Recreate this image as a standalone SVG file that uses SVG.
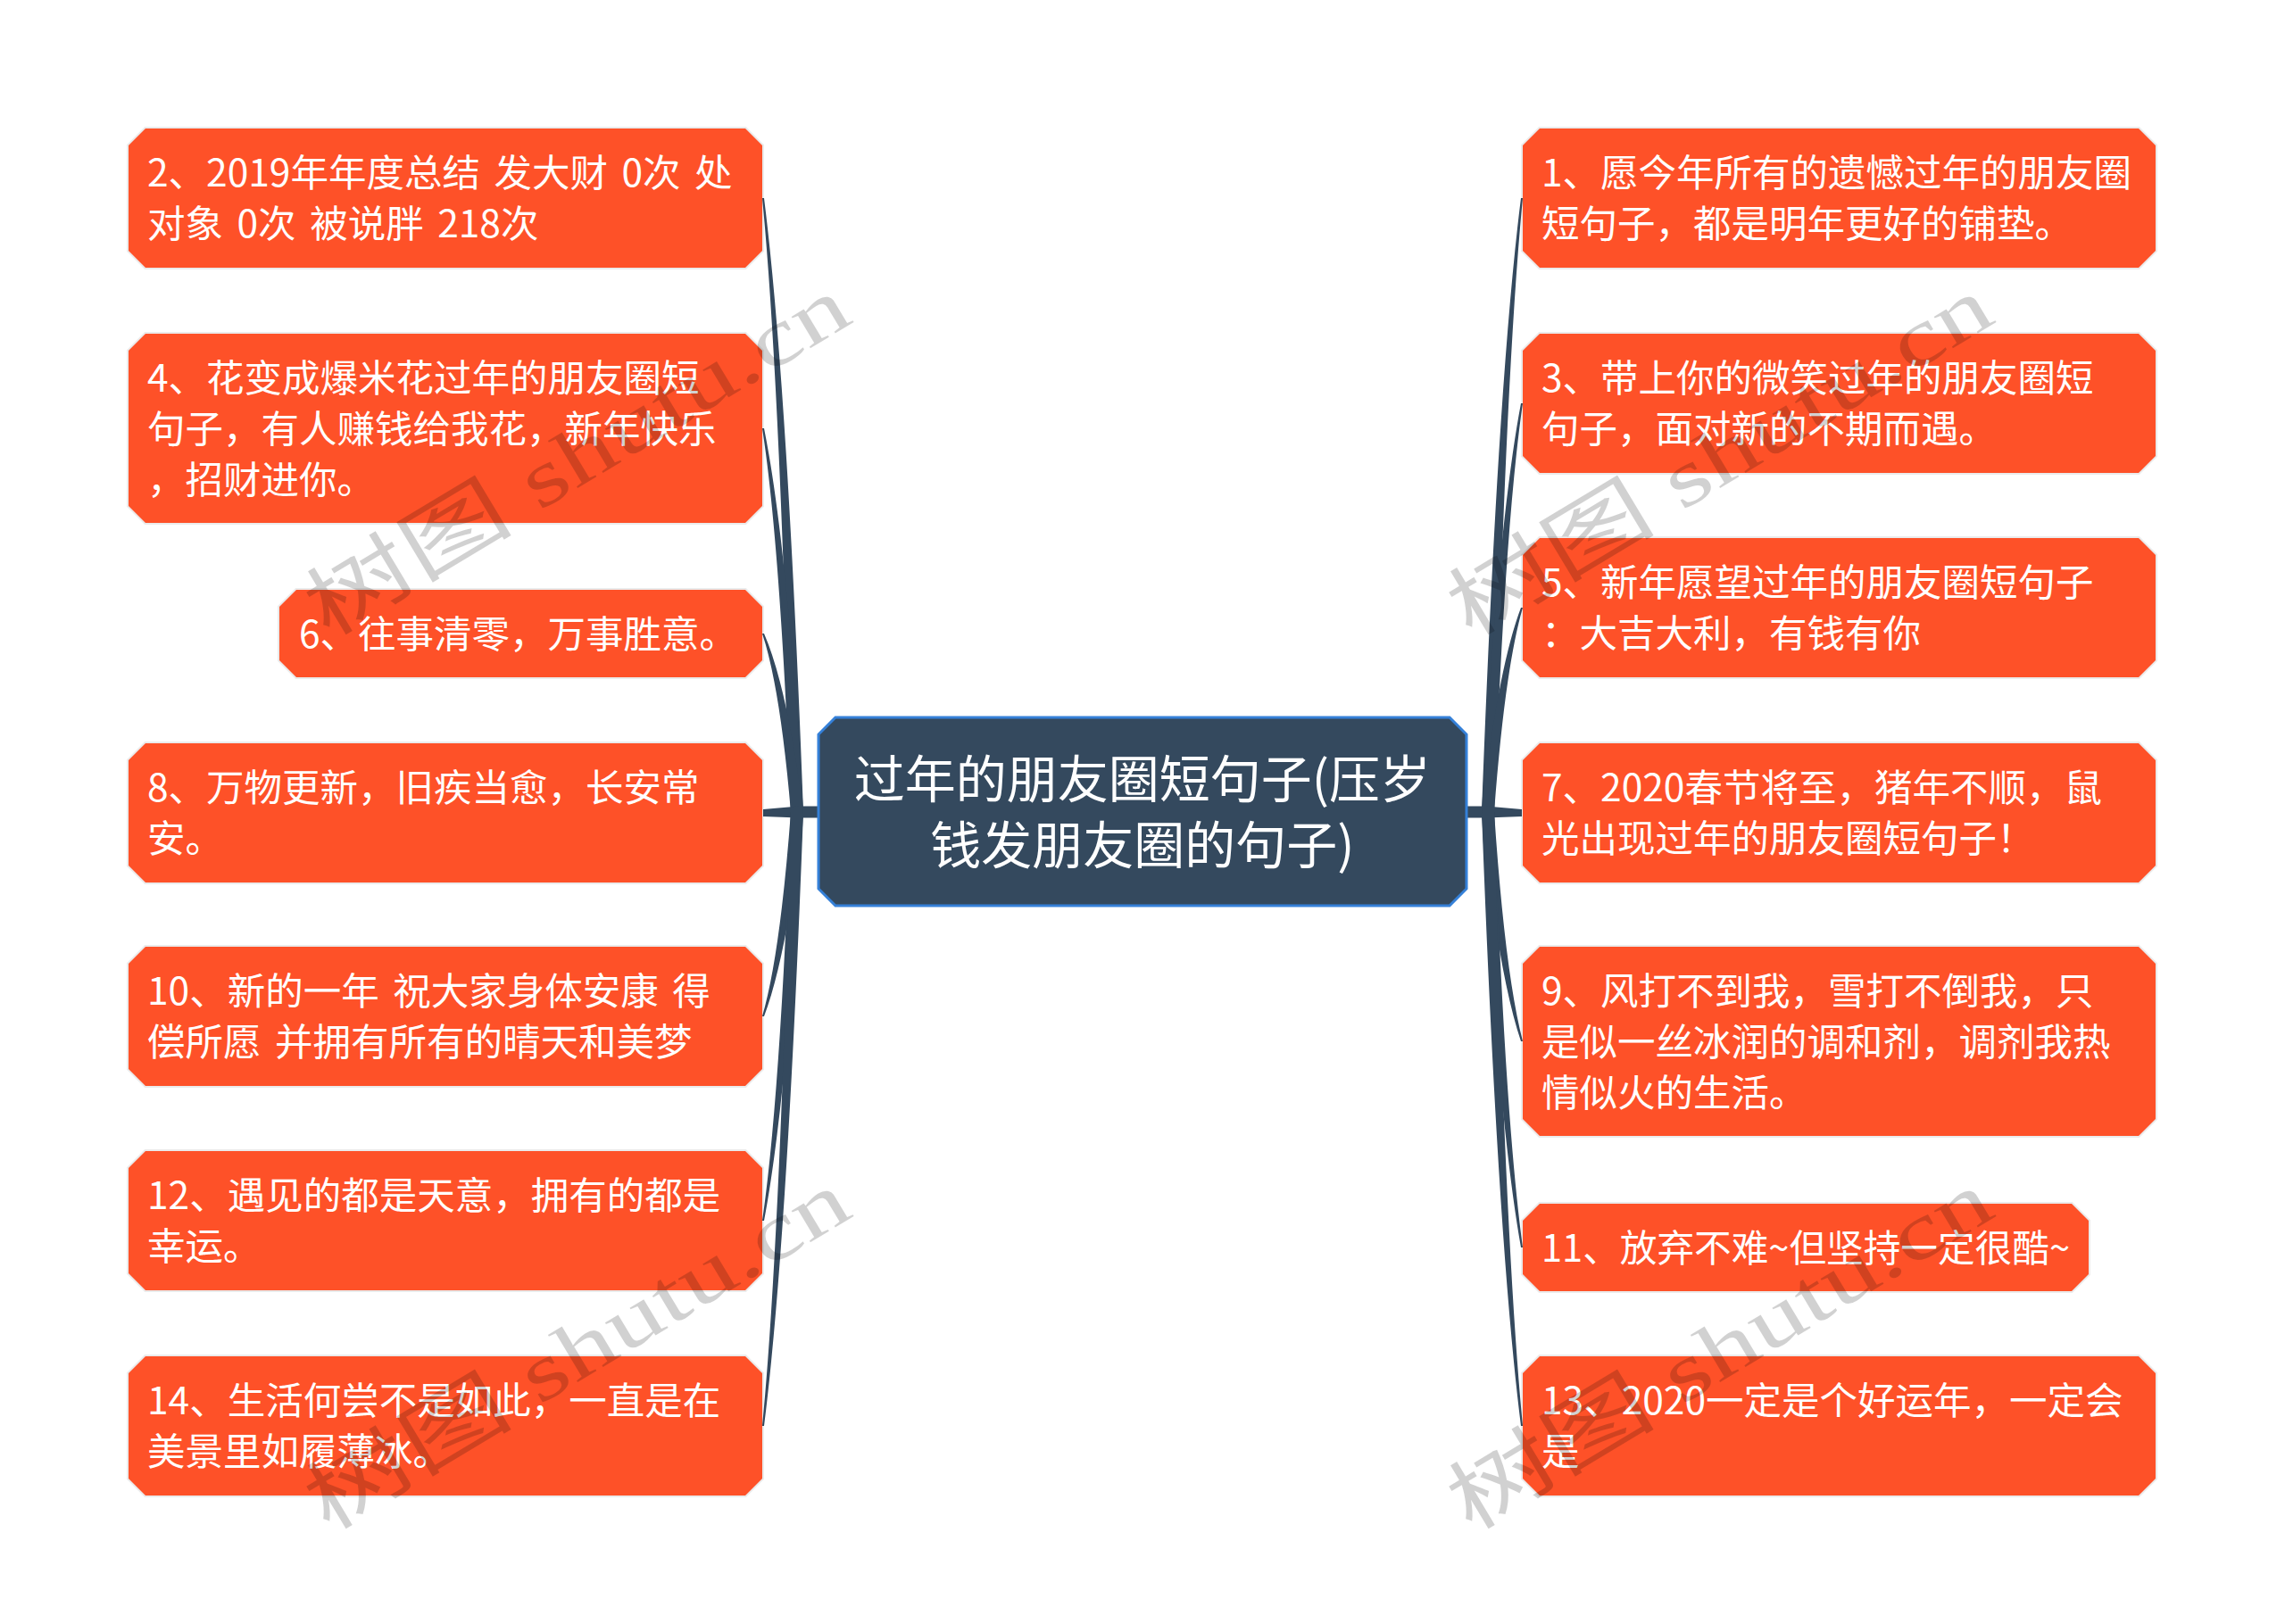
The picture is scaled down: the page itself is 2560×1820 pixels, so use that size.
<svg xmlns="http://www.w3.org/2000/svg" width="2560" height="1820" viewBox="0 0 2560 1820">
<style>
.bg{fill:#ffffff}
.node polygon{fill:#FE5128;stroke:rgba(0,0,0,0.08);stroke-width:4;paint-order:stroke}
.node text{font-family:"Noto Sans CJK SC","Noto Sans",sans-serif;font-size:42.5px;word-spacing:6px;fill:#ffffff}
.root polygon{fill:#34495E;stroke:#3580D8;stroke-width:3}
.root text{font-family:"Noto Sans CJK SC","Noto Sans",sans-serif;font-size:57px;fill:#ffffff;text-anchor:middle}
.conn path{fill:#34495E}
.wm text{font-family:"Liberation Serif","Noto Sans CJK SC",serif;font-size:90px;fill:#000000;fill-opacity:0.18}
</style>
<rect class="bg" x="0" y="0" width="2560" height="1820"/>
<g id="connectors" class="conn">
<path d="M890,903.5 L918,903.5 L918,916.5 L890,916.5 Z"/>
<path d="M1642,903.5 L1670,903.5 L1670,916.5 L1642,916.5 Z"/>
<path d="M886,910 Q874,428.4 854,222 L856,222 Q882,428.4 900,910 Z"/>
<path d="M886,910 Q874,609 854,480 L856,480 Q882,609 900,910 Z"/>
<path d="M886,910 Q874,770 854,710 L856,710 Q882,770 900,910 Z"/>
<path d="M895,903.5 L855,907 L855,915 L895,916.5 Z"/>
<path d="M886,910 Q874,1070.3 854,1139 L856,1139 Q882,1070.3 900,910 Z"/>
<path d="M886,910 Q874,1230.6 854,1368 L856,1368 Q882,1230.6 900,910 Z"/>
<path d="M886,910 Q874,1391.6 854,1598 L856,1598 Q882,1391.6 900,910 Z"/>
<path d="M1660,910 Q1678,428.4 1704,222 L1706,222 Q1686,428.4 1674,910 Z"/>
<path d="M1660,910 Q1678,589.4 1704,452 L1706,452 Q1686,589.4 1674,910 Z"/>
<path d="M1660,910 Q1678,749.7 1704,681 L1706,681 Q1686,749.7 1674,910 Z"/>
<path d="M1665,903.5 L1705,907 L1705,915 L1665,916.5 Z"/>
<path d="M1660,910 Q1678,1089.9 1704,1167 L1706,1167 Q1686,1089.9 1674,910 Z"/>
<path d="M1660,910 Q1678,1251.6 1704,1398 L1706,1398 Q1686,1251.6 1674,910 Z"/>
<path d="M1660,910 Q1678,1391.6 1704,1598 L1706,1598 Q1686,1391.6 1674,910 Z"/>
</g>
<g id="root" class="root">
<polygon points="936,804 1624,804 1643,823 1643,996 1624,1015 936,1015 917,996 917,823"/>
<text x="1280" y="894"><tspan x="1280" y="894">过年的朋友圈短句子(压岁</tspan><tspan x="1280" y="968">钱发朋友圈的句子)</tspan></text>
</g>
<g id="n2" class="node">
<polygon points="163,144 835,144 854,163 854,281 835,300 163,300 144,281 144,163"/>
<text x="165" y="209">2、2019年年度总结 发大财 0次 处</text>
<text x="165" y="266">对象 0次 被说胖 218次</text>
</g>
<g id="n4" class="node">
<polygon points="163,374 835,374 854,393 854,567 835,586 163,586 144,567 144,393"/>
<text x="165" y="439">4、花变成爆米花过年的朋友圈短</text>
<text x="165" y="496">句子，有人赚钱给我花，新年快乐</text>
<text x="165" y="553">，招财进你。</text>
</g>
<g id="n6" class="node">
<polygon points="332,661 835,661 854,680 854,740 835,759 332,759 313,740 313,680"/>
<text x="335" y="726">6、往事清零，万事胜意。</text>
</g>
<g id="n8" class="node">
<polygon points="163,833 835,833 854,852 854,970 835,989 163,989 144,970 144,852"/>
<text x="165" y="898">8、万物更新，旧疾当愈，长安常</text>
<text x="165" y="955">安。</text>
</g>
<g id="n10" class="node">
<polygon points="163,1061 835,1061 854,1080 854,1198 835,1217 163,1217 144,1198 144,1080"/>
<text x="165" y="1126">10、新的一年 祝大家身体安康 得</text>
<text x="165" y="1183">偿所愿 并拥有所有的晴天和美梦</text>
</g>
<g id="n12" class="node">
<polygon points="163,1290 835,1290 854,1309 854,1427 835,1446 163,1446 144,1427 144,1309"/>
<text x="165" y="1355">12、遇见的都是天意，拥有的都是</text>
<text x="165" y="1412">幸运。</text>
</g>
<g id="n14" class="node">
<polygon points="163,1520 835,1520 854,1539 854,1657 835,1676 163,1676 144,1657 144,1539"/>
<text x="165" y="1585">14、生活何尝不是如此，一直是在</text>
<text x="165" y="1642">美景里如履薄冰。</text>
</g>
<g id="n1" class="node">
<polygon points="1725,144 2396,144 2415,163 2415,281 2396,300 1725,300 1706,281 1706,163"/>
<text x="1727" y="209">1、愿今年所有的遗憾过年的朋友圈</text>
<text x="1727" y="266">短句子，都是明年更好的铺垫。</text>
</g>
<g id="n3" class="node">
<polygon points="1725,374 2396,374 2415,393 2415,511 2396,530 1725,530 1706,511 1706,393"/>
<text x="1727" y="439">3、带上你的微笑过年的朋友圈短</text>
<text x="1727" y="496">句子，面对新的不期而遇。</text>
</g>
<g id="n5" class="node">
<polygon points="1725,603 2396,603 2415,622 2415,740 2396,759 1725,759 1706,740 1706,622"/>
<text x="1727" y="668">5、新年愿望过年的朋友圈短句子</text>
<text x="1727" y="725">：大吉大利，有钱有你</text>
</g>
<g id="n7" class="node">
<polygon points="1725,833 2396,833 2415,852 2415,970 2396,989 1725,989 1706,970 1706,852"/>
<text x="1727" y="898">7、2020春节将至，猪年不顺，鼠</text>
<text x="1727" y="955">光出现过年的朋友圈短句子！</text>
</g>
<g id="n9" class="node">
<polygon points="1725,1061 2396,1061 2415,1080 2415,1254 2396,1273 1725,1273 1706,1254 1706,1080"/>
<text x="1727" y="1126">9、风打不到我，雪打不倒我，只</text>
<text x="1727" y="1183">是似一丝冰润的调和剂，调剂我热</text>
<text x="1727" y="1240">情似火的生活。</text>
</g>
<g id="n11" class="node">
<polygon points="1725,1349 2321,1349 2340,1368 2340,1428 2321,1447 1725,1447 1706,1428 1706,1368"/>
<text x="1727" y="1414" textLength="592" lengthAdjust="spacingAndGlyphs">11、放弃不难~但坚持一定很酷~</text>
</g>
<g id="n13" class="node">
<polygon points="1725,1520 2396,1520 2415,1539 2415,1657 2396,1676 1725,1676 1706,1657 1706,1539"/>
<text x="1727" y="1585">13、2020一定是个好运年，一定会</text>
<text x="1727" y="1642">是</text>
</g>
<g id="watermarks" class="wm">
<text transform="translate(647,512) rotate(-31)" x="-345" y="30" textLength="690" lengthAdjust="spacingAndGlyphs">树图 shutu.cn</text>
<text transform="translate(1927,512) rotate(-31)" x="-345" y="30" textLength="690" lengthAdjust="spacingAndGlyphs">树图 shutu.cn</text>
<text transform="translate(647,1514) rotate(-31)" x="-345" y="30" textLength="690" lengthAdjust="spacingAndGlyphs">树图 shutu.cn</text>
<text transform="translate(1927,1514) rotate(-31)" x="-345" y="30" textLength="690" lengthAdjust="spacingAndGlyphs">树图 shutu.cn</text>
</g>
</svg>
